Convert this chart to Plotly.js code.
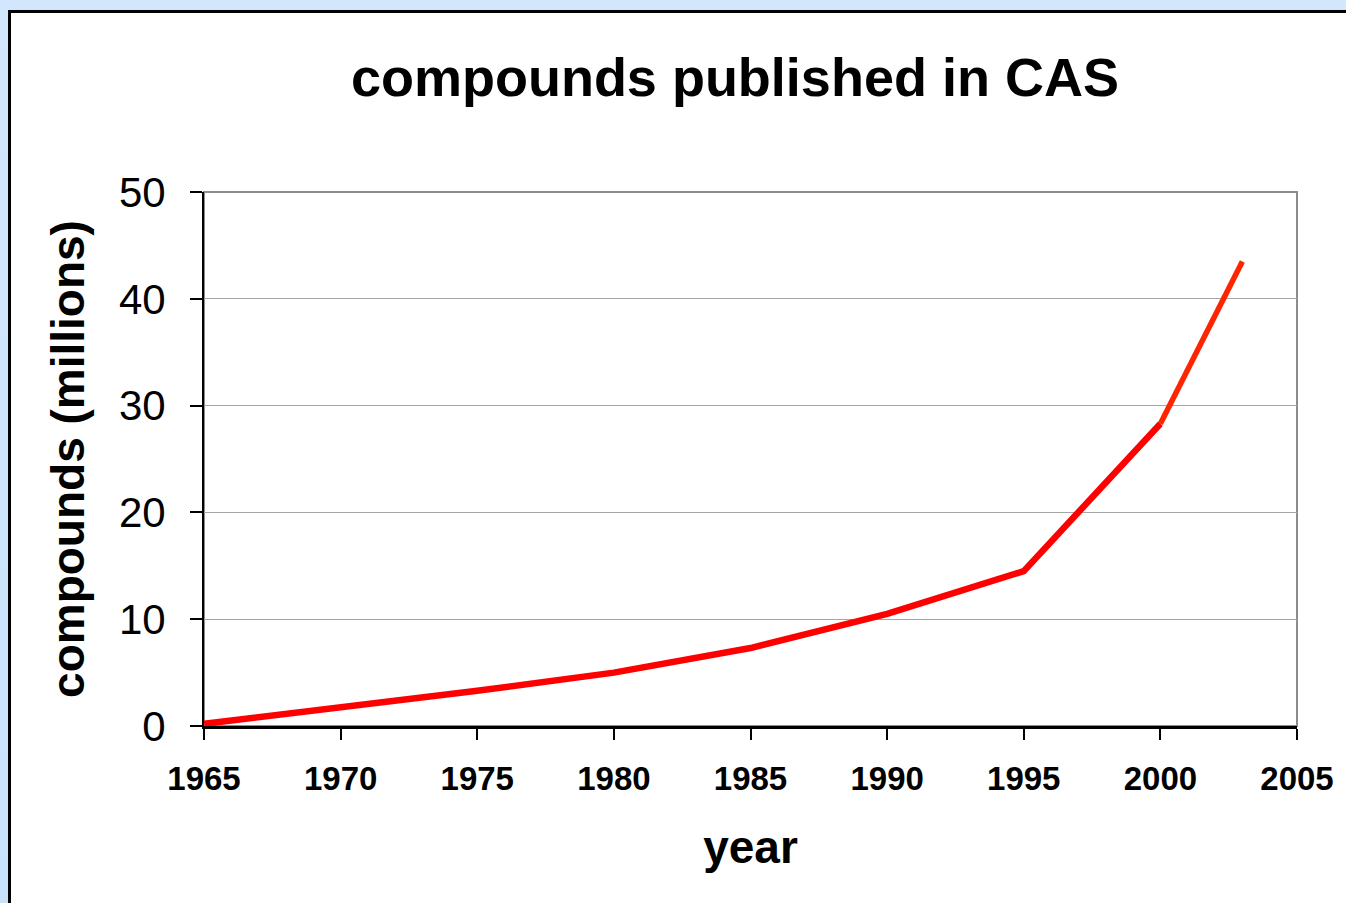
<!DOCTYPE html>
<html>
<head>
<meta charset="utf-8">
<script src="https://cdn.plot.ly/plotly-3.0.1.min.js"></script>
<style>
  html, body { margin: 0; padding: 0; width: 1346px; height: 903px; overflow: hidden;
    background: linear-gradient(to bottom, #d2e6fc, #c9e2fc); }
  #panel { position: absolute; left: 8px; top: 10px; width: 1400px; height: 1000px;
    background: #ffffff; border-left: 3px solid #000; border-top: 3px solid #000; }
  #chart { position: absolute; left: 0; top: 0; width: 1346px; height: 903px; }
</style>
</head>
<body>
<div id="panel"></div>
<div id="chart"></div>
<script>
const years = [1965, 1970, 1975, 1980, 1985, 1990, 1995, 2000];
const compounds = [0.2, 1.7, 3.3, 5.0, 7.3, 10.5, 14.5, 28.3];
const latestYears = [2000, 2003];
const latestCompounds = [28.3, 43.5];
const xTicks = [1965, 1970, 1975, 1980, 1985, 1990, 1995, 2000, 2005];
const yTicks = [0, 10, 20, 30, 40, 50];

const font = 'Liberation Sans, Arial, sans-serif';

const traces = [
  { x: years, y: compounds, type: 'scatter', mode: 'lines',
    line: { color: '#ff0000', width: 6.5 }, hoverinfo: 'skip' },
  { x: latestYears, y: latestCompounds, type: 'scatter', mode: 'lines',
    line: { color: '#ff2400', width: 5.5 }, hoverinfo: 'skip' }
];

const layout = {
  width: 1346, height: 903,
  margin: { l: 204, r: 49, t: 192, b: 177, pad: 0 },
  paper_bgcolor: 'rgba(0,0,0,0)',
  plot_bgcolor: 'rgba(0,0,0,0)',
  showlegend: false,
  title: { text: 'compounds published in CAS', x: 0.546, xanchor: 'center',
    y: 0.915, yanchor: 'middle',
    font: { family: font, size: 54, color: '#000', weight: 'bold' } },
  xaxis: {
    range: [1965, 2005], tickvals: xTicks, ticktext: xTicks.map(String),
    showgrid: false, zeroline: false,
    showline: true, linecolor: '#000', linewidth: 3,
    ticks: 'outside', ticklen: 11, tickwidth: 2, tickcolor: '#000',
    ticklabelstandoff: 10,
    tickfont: { family: font, size: 33, color: '#000', weight: 'bold' },
    title: { text: 'year', standoff: 36,
      font: { family: font, size: 46, color: '#000', weight: 'bold' } }
  },
  yaxis: {
    range: [0, 50], tickvals: yTicks,
    showgrid: true, gridcolor: '#a6a6a6', gridwidth: 1, zeroline: false,
    showline: true, linecolor: '#000', linewidth: 2,
    ticks: 'outside', ticklen: 12, tickwidth: 2, tickcolor: '#000',
    ticklabelstandoff: 16,
    tickfont: { family: font, size: 42, color: '#000' },
    title: { text: 'compounds (millions)', standoff: 20,
      font: { family: font, size: 46, color: '#000', weight: 'bold' } }
  },
  shapes: [
    { type: 'rect', xref: 'paper', yref: 'paper', x0: 0, x1: 1, y0: 0, y1: 1,
      line: { color: '#8c8c8c', width: 2 }, layer: 'below' }
  ]
};

Plotly.newPlot('chart', traces, layout, { displayModeBar: false, staticPlot: true });
</script>
</body>
</html>
